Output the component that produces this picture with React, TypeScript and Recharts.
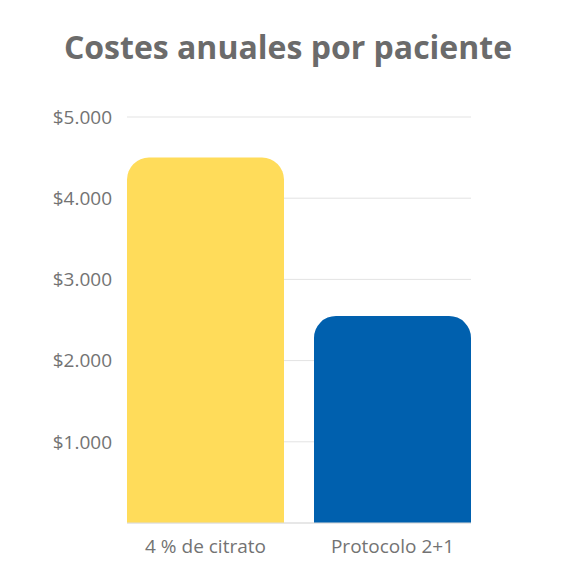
import { BarChart, Bar, XAxis, YAxis, CartesianGrid, Cell } from "recharts"

const categories = ["4 % de citrato", "Protocolo 2+1"]
const costs = [4500, 2550]
const barColors = ["#FFDC5A", "#0060AE"]
const yTicks = [0, 1000, 2000, 3000, 4000, 5000]

const data = categories.map((name, i) => ({ name, cost: costs[i] }))

const fmt = (v: number) => (v === 0 ? "" : "$" + v.toLocaleString("de-DE"))

export default function App() {
  return (
    <div
      style={{
        position: "fixed",
        top: 0,
        left: 0,
        width: 576,
        height: 576,
        background: "#fff",
        fontFamily: "'Open Sans', sans-serif",
      }}
    >
      <div
        style={{
          position: "absolute",
          top: 23,
          left: 0,
          width: 576,
          textAlign: "center",
          fontSize: 32,
          fontWeight: 700,
          color: "#6b6b6b",
          lineHeight: "48px",
        }}
      >
        Costes anuales por paciente
      </div>
      <BarChart
        width={576}
        height={576}
        data={data}
        margin={{ top: 117, right: 105, bottom: 13, left: 0 }}
        barCategoryGap={0}
      >
        <CartesianGrid vertical={false} stroke="#e3e3e3" />
        <XAxis
          dataKey="name"
          height={40}
          padding={{ left: -15, right: -15 }}
          axisLine={{ stroke: "#dddddd" }}
          tickLine={false}
          tickSize={0}
          tickMargin={17}
          tick={{ fill: "#737373", fontSize: 19 }}
        />
        <YAxis
          width={127}
          domain={[0, 5000]}
          ticks={yTicks}
          tickFormatter={fmt}
          axisLine={false}
          tickLine={false}
          tickSize={0}
          tickMargin={15}
          tick={{ fill: "#737373", fontSize: 19 }}
        />
        <Bar dataKey="cost" radius={[22, 22, 0, 0]} isAnimationActive={false} barSize={157}>
          {data.map((d, i) => (
            <Cell key={d.name} fill={barColors[i]} />
          ))}
        </Bar>
      </BarChart>
    </div>
  )
}
